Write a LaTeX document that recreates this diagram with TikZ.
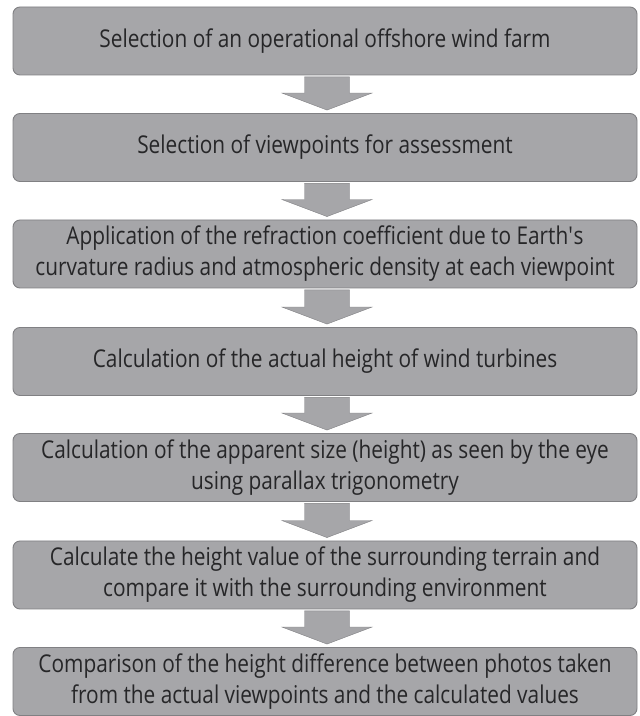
\documentclass[tikz,border=0pt]{standalone}
\usepackage{fontspec}
\setmainfont{Open Sans}[FakeStretch=0.85]
\usetikzlibrary{calc}
\definecolor{boxgray}{RGB}{166,166,169}
\definecolor{edgegray}{RGB}{128,128,131}
\definecolor{txtgray}{RGB}{38,38,40}
\tikzset{
  flowbox/.style={draw=edgegray, line width=0.9pt, fill=boxgray, rounded corners=7pt,
    minimum width=624pt, minimum height=68pt, inner sep=0pt, align=center,
    text=txtgray, font=\fontsize{24.5}{31}\selectfont},
  flowarr/.style={fill=boxgray, draw=edgegray, line width=0.4pt}
}
\newcommand{\flowarrow}[2]{%
  \filldraw[flowarr]
    ($(#1.south)+(2-22.5,-1.5)$) --
    ($(#2.north)+(2-22.5,20)$) --
    ($(#2.north)+(2-45,20)$) --
    ($(#2.north)+(2,3)$) --
    ($(#2.north)+(2+45,20)$) --
    ($(#2.north)+(2+22.5,20)$) --
    ($(#1.south)+(2+22.5,-1.5)$) -- cycle;}
\begin{document}
\begin{tikzpicture}[x=1pt,y=1pt]
\useasboundingbox (0,0) rectangle (640,716);
\fill[white] (0,0) rectangle (640,716);
\node[flowbox] (b1) at (325,675) {Selection of an operational offshore wind farm};
\node[flowbox] (b2) at (325,568.5) {Selection of viewpoints for assessment};
\node[flowbox] (b3) at (325,462) {Application of the refraction coefficient due to Earth\textquotesingle s\\curvature radius and atmospheric density at each viewpoint};
\node[flowbox] (b4) at (325,354.5) {Calculation of the actual height of wind turbines};
\node[flowbox] (b5) at (325,248.5) {Calculation of the apparent size (height) as seen by the eye\\using parallax trigonometry};
\node[flowbox] (b6) at (325,141) {Calculate the height value of the surrounding terrain and\\compare it with the surrounding environment};
\node[flowbox] (b7) at (325,34.5) {Comparison of the height difference between photos taken\\from the actual viewpoints and the calculated values};
\flowarrow{b1}{b2}
\flowarrow{b2}{b3}
\flowarrow{b3}{b4}
\flowarrow{b4}{b5}
\flowarrow{b5}{b6}
\flowarrow{b6}{b7}
\end{tikzpicture}
\end{document}
